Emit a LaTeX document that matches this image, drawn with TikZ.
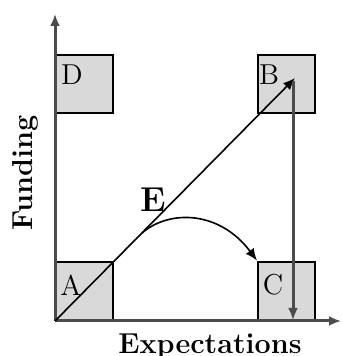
\documentclass[tikz,border=0pt]{standalone}
\usepackage{tikz}
\usetikzlibrary{
  arrows.meta,  % arrow tips
  positioning   % relative placement
}
\tikzset{
  axis line/.style={
    -{Latex[length=6pt,width=5pt]},
    line width=1.5pt,
    color=black!70
  },
  quad box/.style={
    draw=black,
    fill=black!15,
    line width=1.2pt,
    minimum width=57pt*0.5,
    minimum height=58pt*0.5,
    inner sep=0pt,
    anchor=south west
  },
  quad label/.style={
    font=\Large,
    inner sep=0pt
  },
  move arrow/.style={
    -{Latex[length=6pt,width=5pt]},
    line width=0.8pt
  }
}
\begin{document}
\begin{tikzpicture}[x=0.5pt, y=0.5pt] % one unit is one pixel of the reference, origin at the axes' corner

  \useasboundingbox (-55, -35) rectangle (286, 321); % fix the margins of the reference

  % the four quadrant boxes
  \node[quad box] (boxA) at (0, 0) {}; % low expectations, low funding
  \node[quad box] (boxC) at (202, 0) {}; % high expectations, low funding
  \node[quad box] (boxD) at (0, 207) {}; % low expectations, high funding
  \node[quad box] (boxB) at (202, 207) {}; % high expectations, high funding

  % box letters
  \node[quad label] (labA) at (16, 36) {A};
  \node[quad label] (labC) at (218, 36) {C};
  \node[quad label] (labD) at (17, 246) {D};
  \node[quad label] (labB) at (214, 246) {B};

  % axes
  \coordinate (O) at (0, 0); % corner of the axes
  \coordinate (xend) at (286, 0); % tip of the horizontal axis
  \coordinate (yend) at (0, 307); % tip of the vertical axis
  \draw[axis line] (O) -- (xend);
  \draw[axis line] (O) -- (yend);
  \node[font=\Large\bfseries] (xlab) at (155, -25) {Expectations}; % horizontal axis title
  \node[font=\Large\bfseries, rotate=90] (ylab) at (-30, 148) {Funding}; % vertical axis title

  % moves between the quadrants
  \coordinate (Btip) at (240, 243); % where the diagonal ends inside B
  \coordinate (Btop) at (238, 240); % top of the drop from B
  \coordinate (Cbot) at (238, 1); % bottom of the drop into C
  \coordinate (Estart) at (87, 88); % start of the curved move on the diagonal
  \draw[move arrow] (O) -- (Btip); % straight path A to B
  \node[font=\LARGE\bfseries] (labE) at (98, 121) {E};
  \draw[move arrow] (Estart) .. controls (115, 112) and (165, 110) .. (boxC.north west); % curved path towards C
  \draw[axis line] (Btop) -- (Cbot); % drop from B down to C

\end{tikzpicture}
\end{document}
